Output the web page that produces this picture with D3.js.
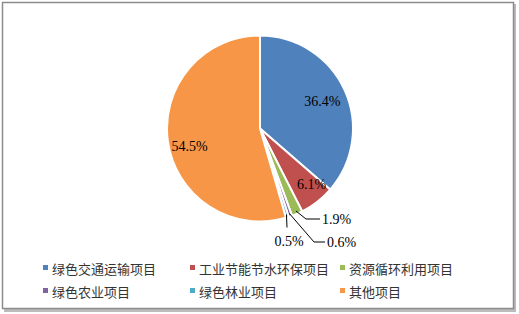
<!DOCTYPE html>
<html><head><meta charset="utf-8">
<script src="https://cdn.jsdelivr.net/npm/d3@7"></script>
<style>body{margin:0;background:#fff;}svg{display:block;}</style>
</head><body>
<svg id="c" width="519" height="314"></svg>
<script>
const categories = ["绿色交通运输项目","工业节能节水环保项目","资源循环利用项目","绿色农业项目","绿色林业项目","其他项目"];
const values = [36.4, 6.1, 1.9, 0.6, 0.5, 54.5];
const labels = ["36.4%","6.1%","1.9%","0.6%","0.5%","54.5%"];
const colors = ["#4F81BD","#C0504D","#9BBB59","#8064A2","#4BACC6","#F79646"];

const svg = d3.select("#c");
// frame
svg.append("rect").attr("x",4).attr("y",4).attr("width",512).attr("height",308).attr("fill","#bbb");
svg.append("rect").attr("x",2.5).attr("y",2.5).attr("width",511).attr("height",306).attr("fill","#fff").attr("stroke","#8c8c8c").attr("stroke-width",1.5);

const cx = 260, cy = 128.5, r = 93;
const g = svg.append("g").attr("transform",`translate(${cx},${cy})`);
const pie = d3.pie().sort(null).value(d=>d);
const arcs = pie(values);
const arc = d3.arc().innerRadius(0).outerRadius(r);
g.selectAll("path").data(arcs).enter().append("path")
  .attr("d",arc).attr("fill",(d,i)=>colors[i])
  .attr("stroke","#fff").attr("stroke-width",2).attr("stroke-linejoin","round");

const font = "'Liberation Serif','Times New Roman',serif";
function addLabel(x,y,t,anchor){
  g.append("text").attr("x",x).attr("y",y).attr("text-anchor",anchor||"middle")
   .attr("font-family",font).attr("font-size",14).attr("fill","#000").text(t);
}
function inside(i, k, dx, dy){
  const c = d3.arc().innerRadius(r*k).outerRadius(r*k).centroid(arcs[i]);
  addLabel(c[0]+dx, c[1]+dy, labels[i]);
}
inside(0, 0.7, 3, 4);
inside(1, 0.78, 7, 3);
inside(5, 0.7, -6, 13);
// small slices with leader lines
function leader(i, pts, tx, ty, anchor){
  const a = (arcs[i].startAngle+arcs[i].endAngle)/2;
  const p0 = [Math.sin(a)*(r-3), -Math.cos(a)*(r-3)];
  const all = [p0].concat(pts);
  g.append("path").attr("d", d3.line()(all)).attr("fill","none").attr("stroke","#000").attr("stroke-width",1);
  addLabel(tx, ty, labels[i], anchor);
}
leader(2, [[46,90.5],[60,90.5]], 62, 95, "start");
leader(3, [[54,113.5],[65,113.5]], 67, 118, "start");
leader(4, [[27,99]], 29, 117, "middle");

// legend
const legend = svg.append("g");
const lx = [43, 190, 340], ly = [269, 292];
categories.forEach((c,i)=>{
  const x = lx[i%3], y = ly[Math.floor(i/3)];
  legend.append("rect").attr("x",x).attr("y",y-4).attr("width",5).attr("height",5).attr("fill",colors[i]);
  legend.append("text").attr("x",x+9).attr("y",y+4.5).attr("font-family","'Noto Sans CJK SC',sans-serif")
    .attr("font-size",13).attr("fill","#333").text(c);
});
</script>
</body></html>
